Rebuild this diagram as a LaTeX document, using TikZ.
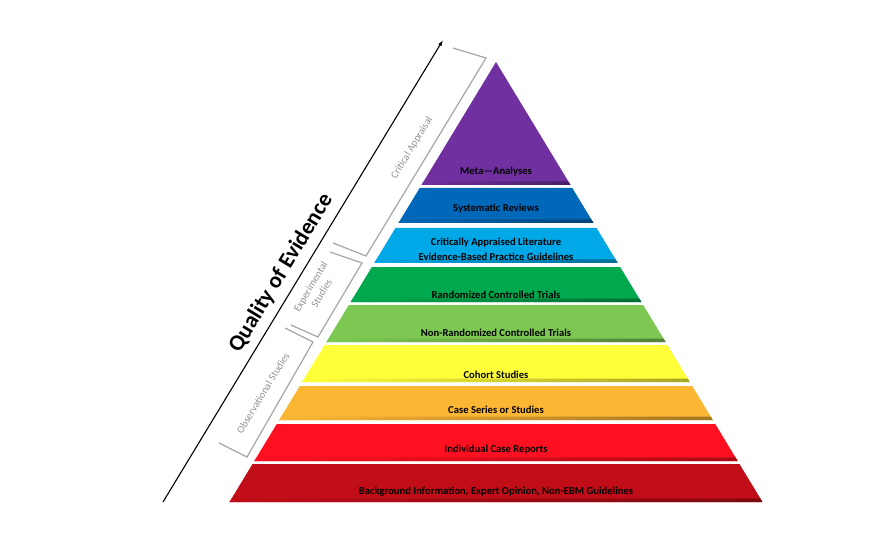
\documentclass[tikz,border=0pt]{standalone}
\usepackage{fontspec}
\setmainfont{Carlito}
\usetikzlibrary{arrows.meta}
\definecolor{cPurple}{HTML}{7030A0}
\definecolor{cBlue}{HTML}{0068B8}
\definecolor{cLBlue}{HTML}{00A8E8}
\definecolor{cGreen}{HTML}{00A84E}
\definecolor{cLGreen}{HTML}{7DC852}
\definecolor{cYellow}{HTML}{FFFF3A}
\definecolor{cOrange}{HTML}{FBB634}
\definecolor{cRed}{HTML}{FF1020}
\definecolor{cDRed}{HTML}{C00D18}
\definecolor{cGray}{HTML}{A6A6A6}
\definecolor{cGrayText}{HTML}{939393}
\tikzset{
  lvltext/.style={font=\fontsize{10.6}{15}\selectfont\bfseries, text=black, inner sep=0pt, align=center},
  brk/.style={draw=cGray, line width=1.2pt, line join=miter},
  brktext/.style={font=\fontsize{10.4}{13}\selectfont, text=cGrayText, rotate=58.8, align=center, inner sep=0pt},
}
\newcommand{\pyrlayer}[4]{%
  \pgfmathsetmacro{\tl}{496-0.6057*(#1-62)}%
  \pgfmathsetmacro{\tr}{496+0.6057*(#1-62)}%
  \pgfmathsetmacro{\bl}{496-0.6057*(#2-62)}%
  \pgfmathsetmacro{\br}{496+0.6057*(#2-62)}%
  \pgfmathsetmacro{\sy}{#2-3.5}%
  \pgfmathsetmacro{\sl}{496-0.6057*(\sy-62)}%
  \pgfmathsetmacro{\sr}{496+0.6057*(\sy-62)}%
  \fill[#3] (\tl,#1) -- (\tr,#1) -- (\br,#2) -- (\bl,#2) -- cycle;
  \shade[left color=#3, right color=#3!65!black] (\sl,\sy) -- (\sr,\sy) -- (\br,#2) -- (\bl,#2) -- cycle;
}
\begin{document}
\begin{tikzpicture}[x=1pt,y=-1pt]
\useasboundingbox (0,0) rectangle (881,540);
\fill[white] (0,0) rectangle (881,540);
% pyramid layers
\pyrlayer{62}{185}{cPurple}{meta}
\pyrlayer{188}{223}{cBlue}{sys}
\pyrlayer{228}{263}{cLBlue}{crit}
\pyrlayer{267}{302}{cGreen}{rct}
\pyrlayer{305}{342}{cLGreen}{nrct}
\pyrlayer{345}{382}{cYellow}{coh}
\pyrlayer{386}{420}{cOrange}{cs}
\pyrlayer{424}{461}{cRed}{icr}
\pyrlayer{464}{502}{cDRed}{bg}
% labels
\node[lvltext] (tmeta) at (496,172) {Meta—Analyses};
\node[lvltext] (tsys) at (496,209) {Systematic Reviews};
\node[lvltext] (tcrit) at (496,249.5) {Critically Appraised Literature\\Evidence-Based Practice Guidelines};
\node[lvltext] (trct) at (496,295) {Randomized Controlled Trials};
\node[lvltext] (tnrct) at (496,333) {Non-Randomized Controlled Trials};
\node[lvltext] (tcoh) at (496,375) {Cohort Studies};
\node[lvltext] (tcs) at (496,410) {Case Series or Studies};
\node[lvltext] (ticr) at (496,450) {Individual Case Reports};
\node[lvltext] (tbg) at (496,492) {Background Information, Expert Opinion, Non-EBM Guidelines};
% arrow
\coordinate (arrS) at (163,502);
\coordinate (arrE) at (443,40);
\draw[line width=1.1pt, -{Latex[length=6pt,width=4pt]}] (arrS) -- (arrE);
\node[font=\fontsize{22.5}{26}\selectfont\bfseries, rotate=58.8, inner sep=0pt] (qe) at (281,273) {Quality of Evidence};
% brackets
\coordinate (ca1) at (453,48); \coordinate (ca2) at (486,58);
\coordinate (ca3) at (366,256); \coordinate (ca4) at (333,243);
\draw[brk] (ca1) -- (ca2) -- (ca3) -- (ca4);
\node[brktext] (tca) at (412,148) {Critical Appraisal};
\coordinate (ex1) at (330,252); \coordinate (ex2) at (362,263);
\coordinate (ex3) at (318,337); \coordinate (ex4) at (291,325);
\draw[brk] (ex1) -- (ex2) -- (ex3) -- (ex4);
\node[brktext] (tex) at (316,290) {Experimental\\Studies};
\coordinate (ob1) at (285,328); \coordinate (ob2) at (313,342);
\coordinate (ob3) at (247,457); \coordinate (ob4) at (219,443);
\draw[brk] (ob1) -- (ob2) -- (ob3) -- (ob4);
\node[brktext] (tob) at (263,393) {Observational Studies};
\end{tikzpicture}
\end{document}
